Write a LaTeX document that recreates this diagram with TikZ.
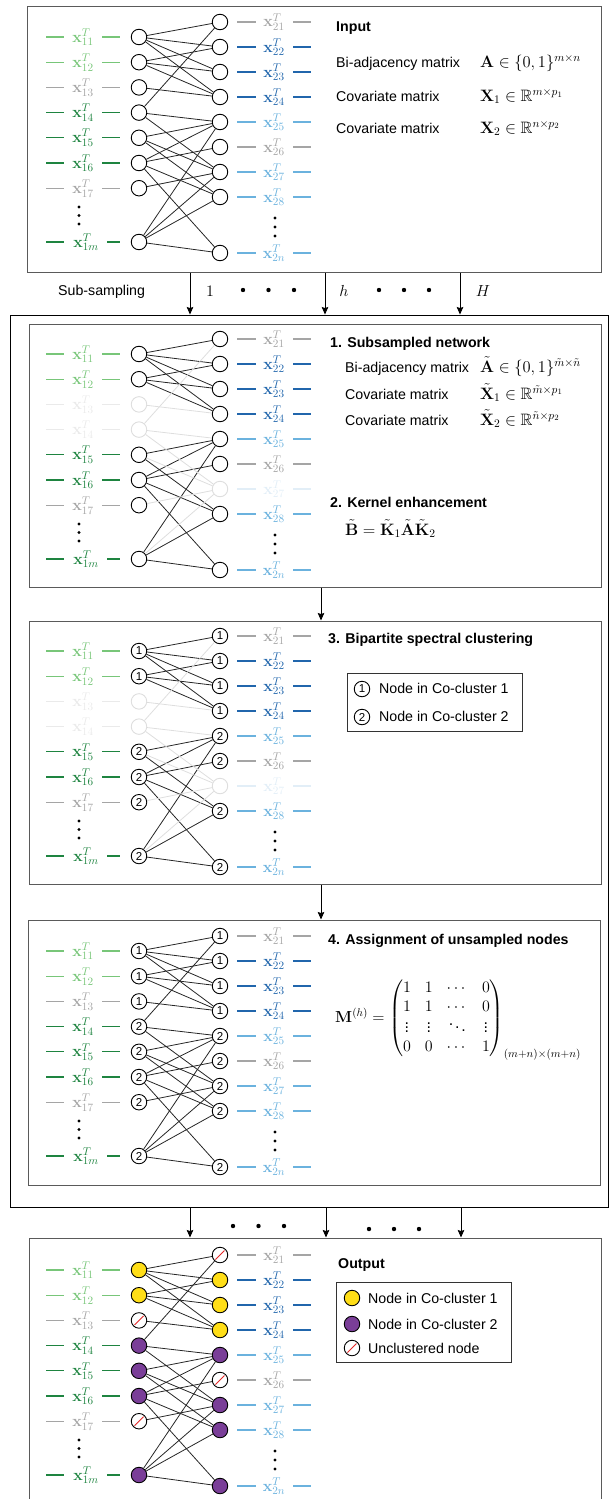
\RequirePackage{fix-cm}
\documentclass[tikz,border=0pt]{standalone}
\usepackage{amsmath,amssymb}
\usepackage[no-math]{fontspec}
\setmainfont{Liberation Sans}
\usetikzlibrary{arrows.meta}

\definecolor{lg}{RGB}{120,198,121}
\definecolor{dg}{RGB}{30,132,64}
\definecolor{gy}{RGB}{165,165,165}
\definecolor{db}{RGB}{33,102,172}
\definecolor{lb}{RGB}{107,178,222}
\definecolor{fg}{RGB}{234,234,234}
\definecolor{fb}{RGB}{226,238,247}
\definecolor{fe}{RGB}{222,222,222}
\definecolor{cy}{RGB}{255,222,23}
\definecolor{cp}{RGB}{122,62,152}
\definecolor{pb}{RGB}{90,90,90}
\definecolor{rd}{RGB}{228,38,38}

\newcommand\txtfont{\fontsize{14.2}{17}\selectfont}
\newcommand\mthfont{\fontsize{16}{19}\selectfont}
\newcommand\eqfont{\fontsize{16.5}{19}\selectfont}
\newcommand\numfont{\fontsize{11.5}{13}\selectfont}

\tikzset{
  nd/.style={circle, draw=black, line width=0.9pt, minimum size=15.5pt, inner sep=0pt, fill=white},
  ndf/.style={nd, draw=fe},
  nd1/.style={nd, label={[font=\numfont, inner sep=0pt]center:1}},
  nd2/.style={nd, label={[font=\numfont, inner sep=0pt]center:2}},
  ndy/.style={nd, fill=cy},
  ndp/.style={nd, fill=cp},
  ndu/.style={nd, path picture={\draw[rd, line width=0.9pt, shorten <=4.6pt, shorten >=4.6pt]
      (path picture bounding box.south west) -- (path picture bounding box.north east);}},
  edg/.style={line width=0.8pt, black!85},
  edgf/.style={line width=0.8pt, fe},
  dashl/.style={line width=1.1pt},
  lab/.style={anchor=base, inner sep=0pt, font=\mthfont},
  txt/.style={anchor=base west, inner sep=0pt, font=\txtfont},
  ttl/.style={anchor=base west, inner sep=0pt, font=\txtfont\bfseries},
  mth/.style={anchor=base west, inner sep=0pt, font=\mthfont},
  eqn/.style={anchor=base west, inner sep=0pt, font=\eqfont},
  mthc/.style={anchor=base, inner sep=0pt, font=\mthfont},
  panel/.style={draw=pb, line width=1pt, inner sep=0pt},
  frame/.style={draw=black, line width=0.9pt, inner sep=0pt},
  legbox/.style={draw=black!80, line width=0.9pt, inner sep=0pt},
  arr/.style={-{Stealth[length=7.5pt,width=6.5pt,inset=1pt]}, line width=0.9pt}
}

% #1 prefix, #2 offset, #3 L styles, #4 R styles, #5 L colours, #6 R colours, #7 faded edge style
\newcommand\bipanel[7]{%
  \foreach \s [count=\i] in {#3} {
    \pgfmathsetmacro\yy{{37,62.2,87.4,112.6,137.8,163,188.2,242}[\i-1]+#2}
    \node[\s] (#1L\i) at (139,\yy) {};
  }
  \foreach \s [count=\i] in {#4} {
    \pgfmathsetmacro\yy{{22,47,72,97,122,147,172,197,253}[\i-1]+#2}
    \node[\s] (#1R\i) at (220,\yy) {};
  }
  \foreach \c [count=\i] in {#5} {
    \pgfmathsetmacro\yy{{37,62.2,87.4,112.6,137.8,163,188.2,242}[\i-1]+#2}
    \ifnum\i<8 \def\sb{1\i}\def\lx{83}\def\rx{102}\else\def\sb{1m}\def\lx{86}\def\rx{107}\fi
    \draw[dashl,\c] (46,\yy) -- (64,\yy) (\rx,\yy) -- (120,\yy);
    \node[lab,text=\c] (#1xa\i) at (\lx,\yy+5) {$\mathbf{x}_{\sb}^T$};
  }
  \foreach \c [count=\i] in {#6} {
    \pgfmathsetmacro\yy{{22,47,72,97,122,147,172,197,253}[\i-1]+#2}
    \ifnum\i<9 \def\sb{2\i}\else\def\sb{2n}\fi
    \draw[dashl,\c] (237,\yy) -- (256,\yy) (293,\yy) -- (311,\yy);
    \node[lab,text=\c] (#1xb\i) at (274,\yy+5) {$\mathbf{x}_{\sb}^T$};
  }
  \foreach \a/\b in {1/1,1/2,1/3,1/4,2/2,2/3,2/4,5/5,5/8,6/5,6/6,6/8,6/9,8/5,8/8,8/9}
    \draw[edg] (#1L\a) -- (#1R\b);
  \foreach \a/\b in {3/4,4/1,4/5,4/7,5/7,7/7,8/7}
    \draw[#7] (#1L\a) -- (#1R\b);
  \foreach \d in {207,215.5,224} \fill (79,\d+#2) circle (1.6pt);
  \foreach \d in {218,227,236} \fill (275,\d+#2) circle (1.6pt);
}

\begin{document}
\begin{tikzpicture}[x={(1pt,0)}, y={(0,-1pt)}]
\useasboundingbox (0,0) rectangle (609,1499);

% frames
\node[panel, minimum width=574pt, minimum height=266pt] (P1) at (314,139) {};
\node[frame, minimum width=598pt, minimum height=892pt] (F) at (309,761) {};
\node[panel, minimum width=572pt, minimum height=263pt] (P2) at (315,455.5) {};
\node[panel, minimum width=572pt, minimum height=263pt] (P3) at (315,752.5) {};
\node[panel, minimum width=572pt, minimum height=265pt] (P4) at (314,1052.5) {};
\node[panel, minimum width=572pt, minimum height=266pt] (P5) at (315,1371) {};

% panel 1 : input
\bipanel{a}{0}{nd,nd,nd,nd,nd,nd,nd,nd}{nd,nd,nd,nd,nd,nd,nd,nd,nd}
  {lg,lg,gy,dg,dg,dg,gy,dg}{gy,db,db,db,lb,gy,lb,lb,lb}{edg}
\node[ttl] (t1) at (336,31) {Input};
\node[txt] (t1a) at (336,67) {Bi-adjacency matrix};
\node[eqn] (m1a) at (480,67) {$\mathbf{A}\in\{0,1\}^{m\times n}$};
\node[txt] (t1b) at (336,101.5) {Covariate matrix};
\node[eqn] (m1b) at (480,101.5) {$\mathbf{X}_1\in\mathbb{R}^{m\times p_1}$};
\node[txt] (t1c) at (336,133) {Covariate matrix};
\node[eqn] (m1c) at (480,133) {$\mathbf{X}_2\in\mathbb{R}^{n\times p_2}$};

% sub-sampling arrows
\coordinate (c1) at (190,0);
\coordinate (c2) at (325,0);
\coordinate (c3) at (460,0);
\draw[arr] (c1 |- P1.south) -- (c1 |- F.north);
\draw[arr] (c2 |- P1.south) -- (c2 |- F.north);
\draw[arr] (c3 |- P1.south) -- (c3 |- F.north);
\node[txt] (ss) at (58,295) {Sub-sampling};
\node[mthc] (s1) at (210,296) {$1$};
\node[mthc] (sh) at (344,296) {$h$};
\node[mthc] (sH) at (483,296) {$H$};
\foreach \x in {243,268.5,294,379,404,429} \fill (\x,290) circle (2.2pt);

% panel 2 : subsampled network
\bipanel{b}{317}{nd,nd,ndf,ndf,nd,nd,nd,nd}{nd,nd,nd,nd,nd,nd,ndf,nd,nd}
  {lg,lg,fg,fg,dg,dg,gy,dg}{gy,db,db,db,lb,gy,fb,lb,lb}{edgf}
\node[ttl] (t2) at (330,347.5) {1. Subsampled network};
\node[txt] (t2a) at (345,372) {Bi-adjacency matrix};
\node[eqn] (m2a) at (480,372) {$\tilde{\mathbf{A}}\in\{0,1\}^{\tilde m\times\tilde n}$};
\node[txt] (t2b) at (345,399) {Covariate matrix};
\node[eqn] (m2b) at (480,399) {$\tilde{\mathbf{X}}_1\in\mathbb{R}^{\tilde m\times p_1}$};
\node[txt] (t2c) at (345,425) {Covariate matrix};
\node[eqn] (m2c) at (480,425) {$\tilde{\mathbf{X}}_2\in\mathbb{R}^{\tilde n\times p_2}$};
\node[ttl] (t2d) at (330,507) {2. Kernel enhancement};
\node[eqn] (m2d) at (345,535) {$\tilde{\mathbf{B}}=\tilde{\mathbf{K}}_1\tilde{\mathbf{A}}\tilde{\mathbf{K}}_2$};

\coordinate (cm) at (321,0);
\draw[arr] (cm |- P2.south) -- (cm |- P3.north);

% panel 3 : spectral clustering
\bipanel{c}{614}{nd1,nd1,ndf,ndf,nd2,nd2,nd2,nd2}{nd1,nd1,nd1,nd1,nd2,nd2,ndf,nd2,nd2}
  {lg,lg,fg,fg,dg,dg,gy,dg}{gy,db,db,db,lb,gy,fb,lb,lb}{edgf}
\node[ttl] (t3) at (328,643) {3. Bipartite spectral clustering};
\node[legbox, minimum width=175pt, minimum height=58pt] (lg3) at (434.5,702) {};
\node[nd1] (k1) at (362,689) {};
\node[txt] (k1t) at (379,693.5) {Node in Co-cluster 1};
\node[nd2] (k2) at (362,717) {};
\node[txt] (k2t) at (379,721.5) {Node in Co-cluster 2};

\draw[arr] (cm |- P3.south) -- (cm |- P4.north);

% panel 4 : assignment
\bipanel{d}{914}{nd1,nd1,nd1,nd2,nd2,nd2,nd2,nd2}{nd1,nd1,nd1,nd1,nd2,nd2,nd2,nd2,nd2}
  {lg,lg,gy,dg,dg,dg,gy,dg}{gy,db,db,db,lb,gy,lb,lb,lb}{edg}
\node[ttl] (t4) at (328,944) {4. Assignment of unsampled nodes};
\node[mth] (m4) at (335,1022) {\setlength{\arraycolsep}{7pt}$\mathbf{M}^{(h)}=\begin{pmatrix}1&1&\cdots&0\\1&1&\cdots&0\\\vdots&\vdots&\ddots&\vdots\\0&0&\cdots&1\end{pmatrix}_{(m+n)\times(m+n)}$};

% arrows to output
\coordinate (e1) at (190,0);
\coordinate (e2) at (326,0);
\coordinate (e3) at (461,0);
\draw[arr] (e1 |- F.south) -- (e1 |- P5.north);
\draw[arr] (e2 |- F.south) -- (e2 |- P5.north);
\draw[arr] (e3 |- F.south) -- (e3 |- P5.north);
\foreach \x in {233,258.5,284} \fill (\x,1226) circle (2.2pt);
\foreach \x in {369,394,419} \fill (\x,1229) circle (2.2pt);

% output
\bipanel{e}{1233}{ndy,ndy,ndu,ndp,ndp,ndp,ndu,ndp}{ndu,ndy,ndy,ndy,ndp,ndu,ndp,ndp,ndp}
  {lg,lg,gy,dg,dg,dg,gy,dg}{gy,db,db,db,lb,gy,lb,lb,lb}{edg}
\node[ttl] (t5) at (338,1268) {Output};
\node[legbox, minimum width=175pt, minimum height=80pt] (lg5) at (423.5,1322) {};
\node[ndy] (o1) at (352,1298) {};
\node[txt] (o1t) at (368,1303) {Node in Co-cluster 1};
\node[ndp] (o2) at (352,1324) {};
\node[txt] (o2t) at (368,1329) {Node in Co-cluster 2};
\node[ndu] (o3) at (352,1348) {};
\node[txt] (o3t) at (368,1353.5) {Unclustered node};
\end{tikzpicture}
\end{document}
